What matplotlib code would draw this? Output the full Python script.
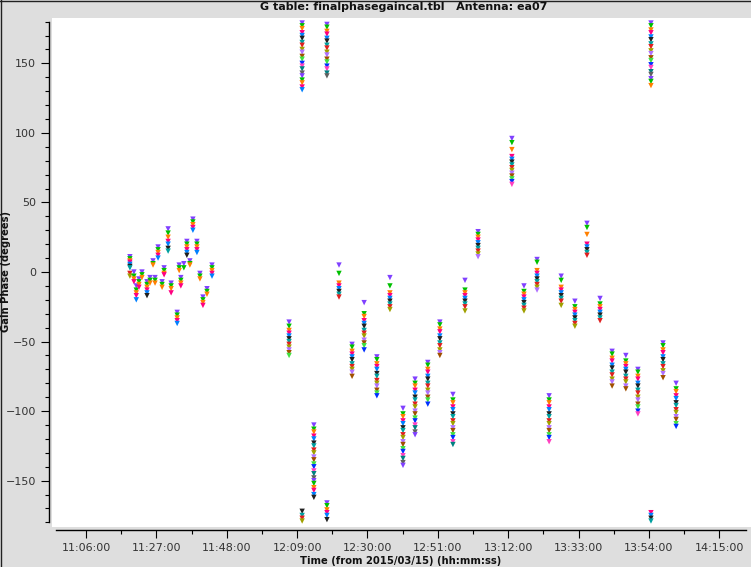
import matplotlib
matplotlib.use("Agg")
import matplotlib.pyplot as plt
from matplotlib.ticker import FixedLocator, FuncFormatter
from matplotlib.lines import Line2D

# ---------------- data (time hh:mm:ss, gain phase in degrees) ----------------
scan_times = [
    "11:19:06", "11:20:18", "11:21:00", "11:21:48", "11:22:42", "11:24:12",
    "11:25:06", "11:26:00", "11:26:36", "11:27:30", "11:28:42", "11:29:18",
    "11:30:30", "11:31:24", "11:33:12", "11:33:48", "11:34:18", "11:35:12",
    "11:36:06", "11:37:00", "11:37:54", "11:39:06", "11:40:00", "11:40:54",
    "11:42:06", "11:43:36",
    "12:06:36", "12:10:30", "12:14:00", "12:17:54", "12:21:30", "12:25:24",
    "12:29:00", "12:32:48", "12:36:42", "12:40:36", "12:44:12", "12:48:00",
    "12:51:36", "12:55:30", "12:59:06", "13:03:00", "13:13:06", "13:16:42",
    "13:20:36", "13:24:12", "13:27:48", "13:31:54", "13:35:30", "13:39:24",
    "13:43:00", "13:47:06", "13:50:42", "13:54:36", "13:58:12", "14:02:06",
]

scan_phases = [
    [11, 9.5, 8, 7, 5.5, 4, 3, -1, -3],
    [0, -3, -5, -7],
    [-10, -13, -15, -17, -20],
    [-5, -7, -9, -11],
    [0, -2, -4],
    [-7, -9, -11, -13, -15, -17],
    [-4, -6, -8],
    [8, 6, 5],
    [-4, -6, -8],
    [18, 16, 14, 12, 10],
    [-7, -9, -11],
    [3, 1, -1, -2],
    [31, 28, 25, 22, 20, 17, 15],
    [-8, -10, -12, -15],
    [-29, -31, -33, -35, -37],
    [5, 3, 1],
    [-4, -6, -8, -10],
    [6, 3],
    [22, 20, 18, 16, 14, 12],
    [8, 6, 5],
    [38, 36, 34, 32, 30],
    [22, 20, 18, 16, 14],
    [-1, -3, -5],
    [-18, -20, -22, -24],
    [-12, -14, -16],
    [5, 3, 1, -1, -3],
    # main scans
    [-36, -39, -42, -44, -46, -48, -50, -52, -54, -56, -58, -60],
    [179, 177, 175, 172, 170, 168, 165, 163, 160, 158, 155, 153, 150, 148,
     146, 143, 141, 138, 136, 133, 131, -172, -175, -177, -179],
    [-110, -113, -115, -118, -120, -123, -125, -128, -130, -133, -135, -138,
     -140, -143, -145, -148, -150, -152, -155, -157, -160, -162],
    [178, 176, 173, 171, 168, 166, 163, 161, 158, 156, 153, 151, 148, 146,
     143, 141, -166, -168, -171, -173, -175, -178],
    [5, -1, -8, -10, -12, -14, -16, -18],
    [-52, -54, -57, -59, -61, -63, -66, -68, -70, -72, -75],
    [-22, -30, -32, -35, -37, -39, -42, -44, -46, -49, -51, -53, -56],
    [-61, -63, -66, -68, -70, -73, -75, -78, -80, -82, -85, -87, -89],
    [-4, -10, -15, -17, -19, -21, -23, -25, -27],
    [-98, -102, -104, -107, -109, -112, -114, -117, -119, -122, -124, -127,
     -129, -132, -134, -137, -139],
    [-77, -80, -82, -85, -87, -90, -92, -95, -97, -100, -102, -105, -107,
     -110, -112, -115, -117],
    [-65, -67, -70, -72, -75, -77, -80, -82, -85, -87, -90, -92, -95],
    [-36, -38, -41, -43, -46, -48, -51, -53, -56, -58, -60],
    [-88, -92, -94, -97, -99, -102, -104, -107, -109, -112, -114, -117, -119,
     -122, -124],
    [-6, -13, -15, -17, -19, -21, -23, -25, -28],
    [29, 27, 25, 23, 21, 19, 17, 15, 13, 11],
    [96, 93, 88, 83, 81, 79, 77, 75, 73, 71, 69, 67, 65, 63],
    [-10, -14, -16, -18, -20, -22, -24, -26, -28],
    [9, 7, 1, -1, -3, -5, -7, -9, -11, -13],
    [-89, -92, -94, -97, -99, -102, -104, -107, -109, -112, -114, -117, -119,
     -122],
    [-3, -6, -11, -13, -15, -17, -19, -21, -24],
    [-21, -25, -27, -29, -31, -33, -35, -37, -39],
    [35, 32, 27, 20, 18, 16, 14, 12],
    [-19, -23, -25, -27, -29, -31, -33, -35],
    [-57, -59, -62, -64, -67, -69, -72, -74, -77, -79, -82],
    [-60, -64, -66, -68, -70, -72, -75, -77, -79, -82, -84],
    [-70, -72, -75, -77, -80, -82, -85, -87, -90, -92, -95, -97, -100, -102],
    [179, 177, 174, 172, 169, 167, 164, 162, 159, 157, 154, 152, 149, 147,
     144, 142, 139, 137, 134, -173, -175, -177, -179],
    [-51, -53, -56, -58, -61, -63, -66, -68, -71, -73, -76],
    [-80, -84, -86, -89, -91, -94, -96, -99, -101, -104, -106, -109, -111],
]

x_tick_labels = ["11:06:00", "11:27:00", "11:48:00", "12:09:00", "12:30:00",
                 "12:51:00", "13:12:00", "13:33:00", "13:54:00", "14:15:00"]
y_tick_values = [-150, -100, -50, 0, 50, 100, 150]

title_text = "G table: finalphasegaincal.tbl   Antenna: ea07"
x_label = "Time (from 2015/03/15) (hh:mm:ss)"
y_label = "Gain Phase (degrees)"

palette = ['#8040ff', '#00c000', '#ff8000', '#ff0080', '#0080ff', '#202020',
           '#00a0a0', '#e02020', '#a0a000', '#b070ff', '#a05000', '#40e040',
           '#0030ff', '#ff40c0', '#008080', '#606060']


def to_min(s):
    h, m, sec = (int(v) for v in s.split(":"))
    return h * 60 + m + sec / 60.0


def fmt(v, pos=None):
    tot = int(round(v * 60))
    return "%02d:%02d:%02d" % (tot // 3600, (tot // 60) % 60, tot % 60)


W, H = 751, 567
fig = plt.figure(figsize=(W / 100, H / 100), dpi=100)
fig.patch.set_facecolor('#dedede')
ax = fig.add_axes([52 / W, 1 - 527 / H, (751 - 52) / W, (527 - 18) / H])
ax.set_facecolor('white')

xs, ys, cs = [], [], []
for t, vals in zip(scan_times, scan_phases):
    tm = to_min(t)
    for i, v in enumerate(vals):
        xs.append(tm)
        ys.append(v)
        cs.append(palette[i % len(palette)])
ax.scatter(xs, ys, c=cs, marker='v', s=15, linewidths=0, zorder=3)

ax.set_xlim(655.85, 864.45)
ax.set_ylim(-183.3, 182.6)

for sp in ['top', 'right']:
    ax.spines[sp].set_visible(False)
ax.spines['left'].set_position(('outward', 2))
ax.spines['bottom'].set_position(('outward', 2))
ax.spines['left'].set_bounds(-180, 180)
ax.spines['bottom'].set_bounds(657.0, 862.9)
for sp in ['left', 'bottom']:
    ax.spines[sp].set_linewidth(1.0)
    ax.spines[sp].set_color('black')

xt = [to_min(s) for s in x_tick_labels]
ax.xaxis.set_major_locator(FixedLocator(xt))
ax.xaxis.set_minor_locator(FixedLocator([v + 10.5 for v in xt[:-1]] + [xt[0] - 10.5]))
ax.xaxis.set_major_formatter(FuncFormatter(fmt))
ax.yaxis.set_major_locator(FixedLocator(y_tick_values))
ax.yaxis.set_minor_locator(FixedLocator([v for v in range(-180, 181, 10)
                                         if v not in y_tick_values]))

ax.tick_params(axis='both', which='major', length=6, width=0.8,
               labelsize=8, labelcolor='#333333', pad=3.5, direction='out')
ax.tick_params(axis='both', which='minor', length=3, width=0.8, direction='out')

fig.text(404 / W, 1 - 7 / H, title_text, ha='center', va='center',
         fontsize=8, fontweight='bold', color='#111111')
fig.text(401 / W, 1 - 561 / H, x_label, ha='center', va='center',
         fontsize=7.2, fontweight='bold', color='#111111')
fig.text(6 / W, 1 - 272 / H, y_label, ha='center', va='center', rotation=90,
         fontsize=7.2, fontweight='bold', color='#111111')

# outer frame on left and top edge
fig.add_artist(Line2D([0.5 / W, 0.5 / W], [0, 1], color='#222222', lw=1,
                      transform=fig.transFigure))
fig.add_artist(Line2D([0, 1], [1 - 0.5 / H, 1 - 0.5 / H], color='#222222', lw=1,
                      transform=fig.transFigure))

fig.savefig("out.png", dpi=100, facecolor=fig.get_facecolor())
